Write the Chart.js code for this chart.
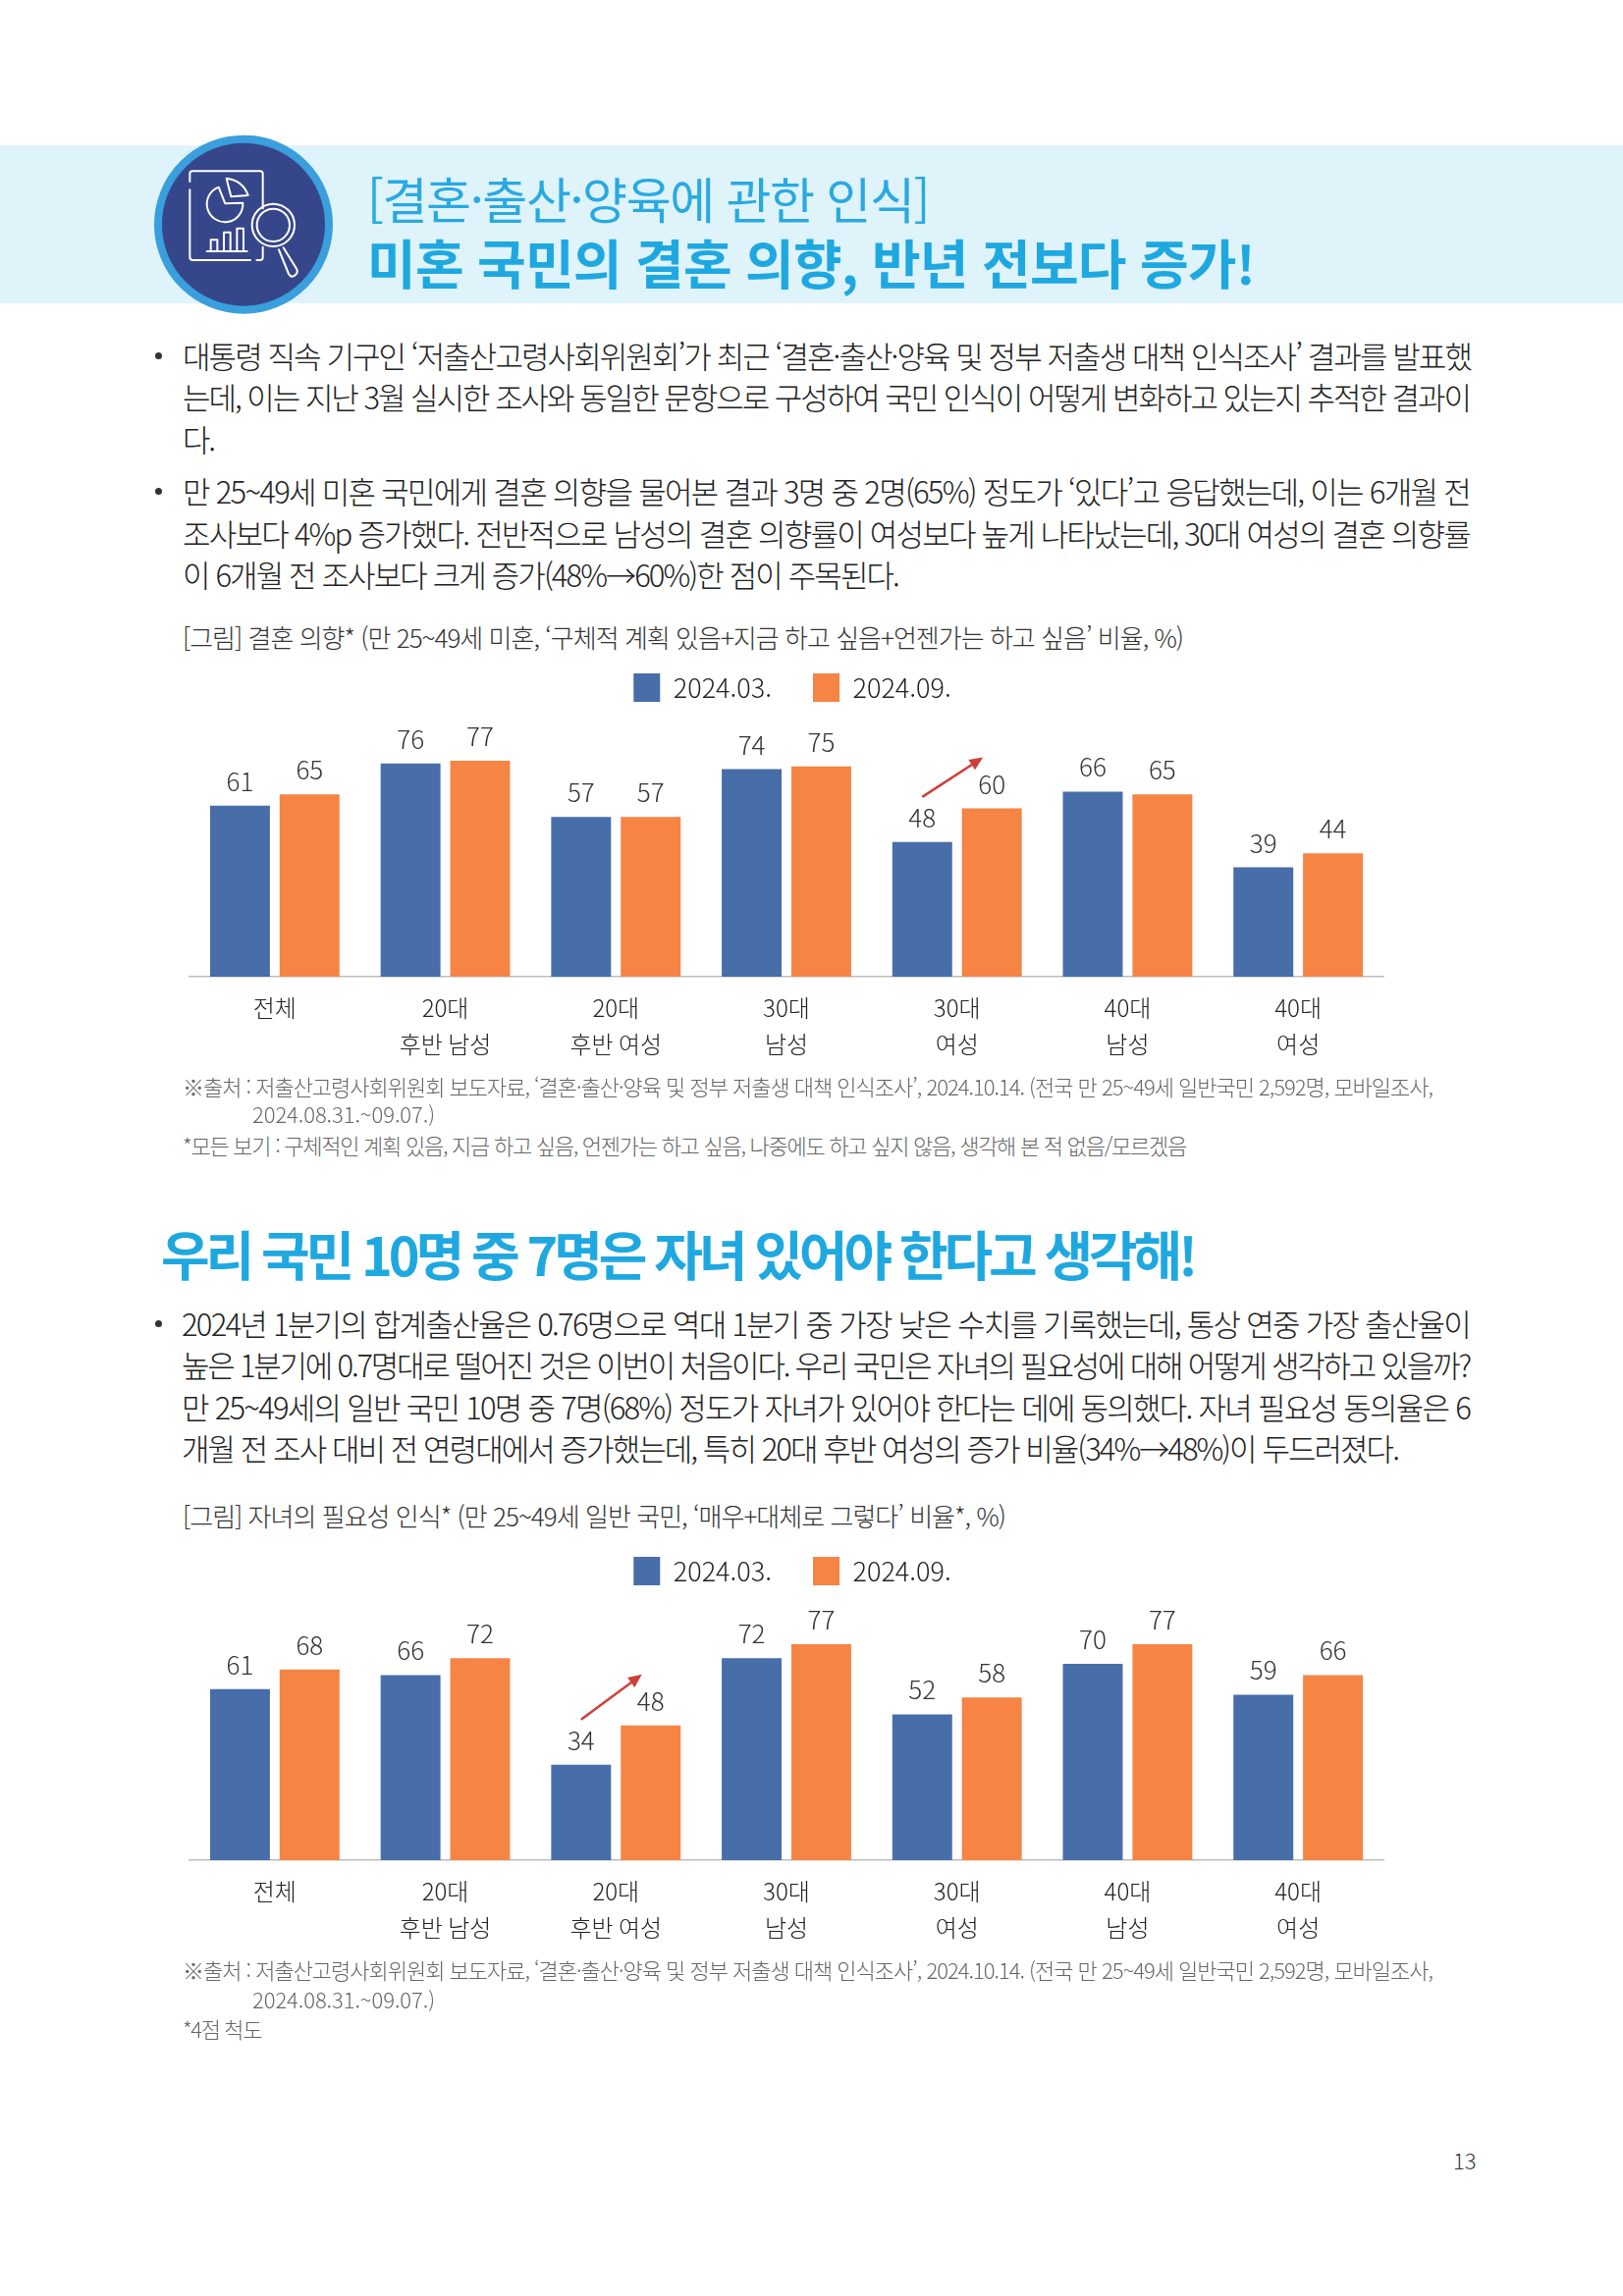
<!DOCTYPE html>
<html lang="ko">
<head>
<meta charset="utf-8">
<title>결혼·출산·양육에 관한 인식</title>
<script src="https://cdn.jsdelivr.net/npm/chart.js@4"></script>
<style>
html,body{margin:0;padding:0;background:#fff;}
#page{position:relative;width:1653px;height:2339px;overflow:hidden;font-family:"Noto Sans CJK KR","Noto Sans",sans-serif;}
.t{position:absolute;white-space:nowrap;transform:translateY(-50%);line-height:1.2;}
.body{font-size:31px;font-weight:300;color:#222;}
.cap{font-size:26px;font-weight:300;color:#333;}
.src{font-size:22px;font-weight:300;color:#666;}
.sub{font-size:50px;font-weight:400;color:#29a9e0;}
.head{font-size:54px;font-weight:700;color:#1fa8e0;}
.bul{position:absolute;width:7px;height:7px;border-radius:50%;background:#333;}
#band{position:absolute;left:0;top:148px;width:1653px;height:161px;background:#dff3fb;}
#icon{position:absolute;left:140px;top:125px;width:220px;height:210px;}
canvas{position:absolute;left:155px;}
</style>
</head>
<body>
<div id="page">
<div id="band"></div>
<svg id="icon" viewBox="0 0 660 630">
  <circle cx="324" cy="311" r="261" fill="#36468a" stroke="#3a9fdc" stroke-width="24"/>
  <g fill="none" stroke="#fff" stroke-width="6" stroke-linecap="round" stroke-linejoin="round">
    <path d="M160 180V156Q160 148 168 148H375Q383 148 383 156V262"/>
    <path d="M160 205V410Q160 420 170 420H345"/>
    <path d="M364 420H375Q383 420 383 412V380"/>
    <path d="M248 197A55 55 0 1 0 322 245L268 247Z"/>
    <path d="M272 170Q322 176 338 222L286 226Z"/>
    <path d="M212 393H335"/>
    <path d="M224 393V358H244V393M264 393V335H284V393M304 393V323H324V393"/>
    <circle cx="415" cy="313" r="65"/>
    <circle cx="415" cy="313" r="50"/>
    <path d="M432 388L462 462Q470 476 482 466Q492 458 486 446L446 382"/>
  </g>
</svg>
<div class="t sub" style="left:374px;top:201px" data-w="572">[결혼·출산·양육에 관한 인식]</div>
<div class="t head" style="left:374px;top:267px" data-w="904">미혼 국민의 결혼 의향, 반년 전보다 증가!</div>

<div class="bul" style="left:158px;top:359px"></div>
<div class="t body" style="left:186px;top:362px" data-w="1312">대통령 직속 기구인 ‘저출산고령사회위원회’가 최근 ‘결혼·출산·양육 및 정부 저출생 대책 인식조사’ 결과를 발표했</div>
<div class="t body" style="left:186px;top:404px" data-w="1311">는데, 이는 지난 3월 실시한 조사와 동일한 문항으로 구성하여 국민 인식이 어떻게 변화하고 있는지 추적한 결과이</div>
<div class="t body" style="left:186px;top:447px" data-w="32">다.</div>
<div class="bul" style="left:158px;top:497px"></div>
<div class="t body" style="left:186px;top:500px" data-w="1311">만 25~49세 미혼 국민에게 결혼 의향을 물어본 결과 3명 중 2명(65%) 정도가 ‘있다’고 응답했는데, 이는 6개월 전</div>
<div class="t body" style="left:186px;top:543px" data-w="1311">조사보다 4%p 증가했다. 전반적으로 남성의 결혼 의향률이 여성보다 높게 나타났는데, 30대 여성의 결혼 의향률</div>
<div class="t body" style="left:186px;top:585px" data-w="729">이 6개월 전 조사보다 크게 증가(48%→60%)한 점이 주목된다.</div>

<div class="t cap" style="left:186px;top:649px" data-w="1019">[그림] 결혼 의향* (만 25~49세 미혼, ‘구체적 계획 있음+지금 하고 싶음+언젠가는 하고 싶음’ 비율, %)</div>
<canvas id="chart1" width="1310" height="451" style="top:644px"></canvas>
<div class="t src" style="left:186px;top:1106px" data-w="1273">※출처 : 저출산고령사회위원회 보도자료, ‘결혼·출산·양육 및 정부 저출생 대책 인식조사’, 2024.10.14. (전국 만 25~49세 일반국민 2,592명, 모바일조사,</div>
<div class="t src" style="left:257px;top:1134px" data-w="186">2024.08.31.~09.07.)</div>
<div class="t src" style="left:186px;top:1166px" data-w="1022">*모든 보기 : 구체적인 계획 있음, 지금 하고 싶음, 언젠가는 하고 싶음, 나중에도 하고 싶지 않음, 생각해 본 적 없음/모르겠음</div>

<div class="t head" style="left:164px;top:1277px" data-w="1052">우리 국민 10명 중 7명은 자녀 있어야 한다고 생각해!</div>
<div class="bul" style="left:158px;top:1345px"></div>
<div class="t body" style="left:185px;top:1348px" data-w="1312">2024년 1분기의 합계출산율은 0.76명으로 역대 1분기 중 가장 낮은 수치를 기록했는데, 통상 연중 가장 출산율이</div>
<div class="t body" style="left:185px;top:1390px" data-w="1312">높은 1분기에 0.7명대로 떨어진 것은 이번이 처음이다. 우리 국민은 자녀의 필요성에 대해 어떻게 생각하고 있을까?</div>
<div class="t body" style="left:185px;top:1433px" data-w="1312">만 25~49세의 일반 국민 10명 중 7명(68%) 정도가 자녀가 있어야 한다는 데에 동의했다. 자녀 필요성 동의율은 6</div>
<div class="t body" style="left:185px;top:1475px" data-w="1239">개월 전 조사 대비 전 연령대에서 증가했는데, 특히 20대 후반 여성의 증가 비율(34%→48%)이 두드러졌다.</div>

<div class="t cap" style="left:186px;top:1544px" data-w="838">[그림] 자녀의 필요성 인식* (만 25~49세 일반 국민, ‘매우+대체로 그렇다’ 비율*, %)</div>
<canvas id="chart2" width="1310" height="451" style="top:1544px"></canvas>
<div class="t src" style="left:186px;top:2006px" data-w="1273">※출처 : 저출산고령사회위원회 보도자료, ‘결혼·출산·양육 및 정부 저출생 대책 인식조사’, 2024.10.14. (전국 만 25~49세 일반국민 2,592명, 모바일조사,</div>
<div class="t src" style="left:257px;top:2036px" data-w="186">2024.08.31.~09.07.)</div>
<div class="t src" style="left:186px;top:2066px" data-w="80">*4점 척도</div>
<div class="t" style="left:1480px;top:2200px;font-size:22px;font-weight:300;color:#333">13</div>
</div>
<script>
const categories = [["전체"],["20대","후반 남성"],["20대","후반 여성"],["30대","남성"],["30대","여성"],["40대","남성"],["40대","여성"]];
const seriesNames = ["2024.03.","2024.09."];
const marriageMarch = [61,76,57,74,48,66,39];
const marriageSept = [65,77,57,75,60,65,44];
const childrenMarch = [61,66,34,72,52,70,59];
const childrenSept = [68,72,48,77,58,77,66];

const BLUE = "#476ea8";
const ORANGE = "#f68445";
const FONT = '"Noto Sans CJK KR","Noto Sans",sans-serif';

// fit each text line to the width it has in the page
document.querySelectorAll(".t[data-w]").forEach(el=>{
    const target = parseFloat(el.dataset.w);
    const n = el.textContent.length;
    const diff = target - el.getBoundingClientRect().width;
    el.style.letterSpacing = (diff/n)+"px";
});

// value labels and the red arrow, placed from the bars
const barExtras = {
    id:"barExtras",
    afterLayout(chart){
        // legend sits a little right of the plot centre in the original
        chart.legend.left += 6;
        chart.legend.right += 6;
    },
    afterDatasetsDraw(chart,args,opts){
        const ctx = chart.ctx;
        ctx.save();
        ctx.font = "300 26px "+FONT;
        ctx.fillStyle = "#333";
        ctx.textAlign = "center";
        ctx.textBaseline = "alphabetic";
        chart.data.datasets.forEach((ds,d)=>{
            chart.getDatasetMeta(d).data.forEach((bar,i)=>{
                ctx.fillText(ds.data[i],bar.x,bar.y-15);
            });
        });
        const from = chart.getDatasetMeta(0).data[opts.arrowAt];
        const to = chart.getDatasetMeta(1).data[opts.arrowAt];
        const x1 = from.x, y1 = from.y-46, x2 = to.x-9, y2 = to.y-52;
        const ang = Math.atan2(y2-y1,x2-x1);
        ctx.strokeStyle = ctx.fillStyle = "#cb3f38";
        ctx.lineWidth = 2.5;
        ctx.beginPath();
        ctx.moveTo(x1,y1);
        ctx.lineTo(x2-8*Math.cos(ang),y2-8*Math.sin(ang));
        ctx.stroke();
        ctx.beginPath();
        ctx.moveTo(x2,y2);
        ctx.lineTo(x2-15*Math.cos(ang-0.42),y2-15*Math.sin(ang-0.42));
        ctx.lineTo(x2-15*Math.cos(ang+0.42),y2-15*Math.sin(ang+0.42));
        ctx.closePath();
        ctx.fill();
        ctx.restore();
    }
};

function makeChart(id,first,second,arrowAt){
    return new Chart(document.getElementById(id),{
        type:"bar",
        data:{
            labels:categories,
            datasets:[
                {label:seriesNames[0],data:first,backgroundColor:BLUE},
                {label:seriesNames[1],data:second,backgroundColor:ORANGE}
            ]
        },
        options:{
            responsive:false,
            animation:false,
            devicePixelRatio:1,
            layout:{padding:{left:38,right:56,top:0,bottom:0}},
            datasets:{bar:{categoryPercentage:0.816,barPercentage:0.86}},
            scales:{
                x:{
                    grid:{display:false,drawTicks:false},
                    border:{display:true,color:"#bdbdbd",width:1.5},
                    ticks:{padding:13,color:"#222",maxRotation:0,autoSkip:false,font:{family:FONT,size:24,weight:"300",lineHeight:37/24}}
                },
                y:{display:false,min:0,max:94.5}
            },
            plugins:{
                tooltip:{enabled:false},
                legend:{
                    position:"top",
                    labels:{boxWidth:27,boxHeight:29,padding:42,color:"#222",font:{family:FONT,size:27,weight:"300"}}
                },
                barExtras:{arrowAt}
            }
        },
        plugins:[barExtras]
    });
}

makeChart("chart1",marriageMarch,marriageSept,4);
makeChart("chart2",childrenMarch,childrenSept,2);
</script>
</body>
</html>
